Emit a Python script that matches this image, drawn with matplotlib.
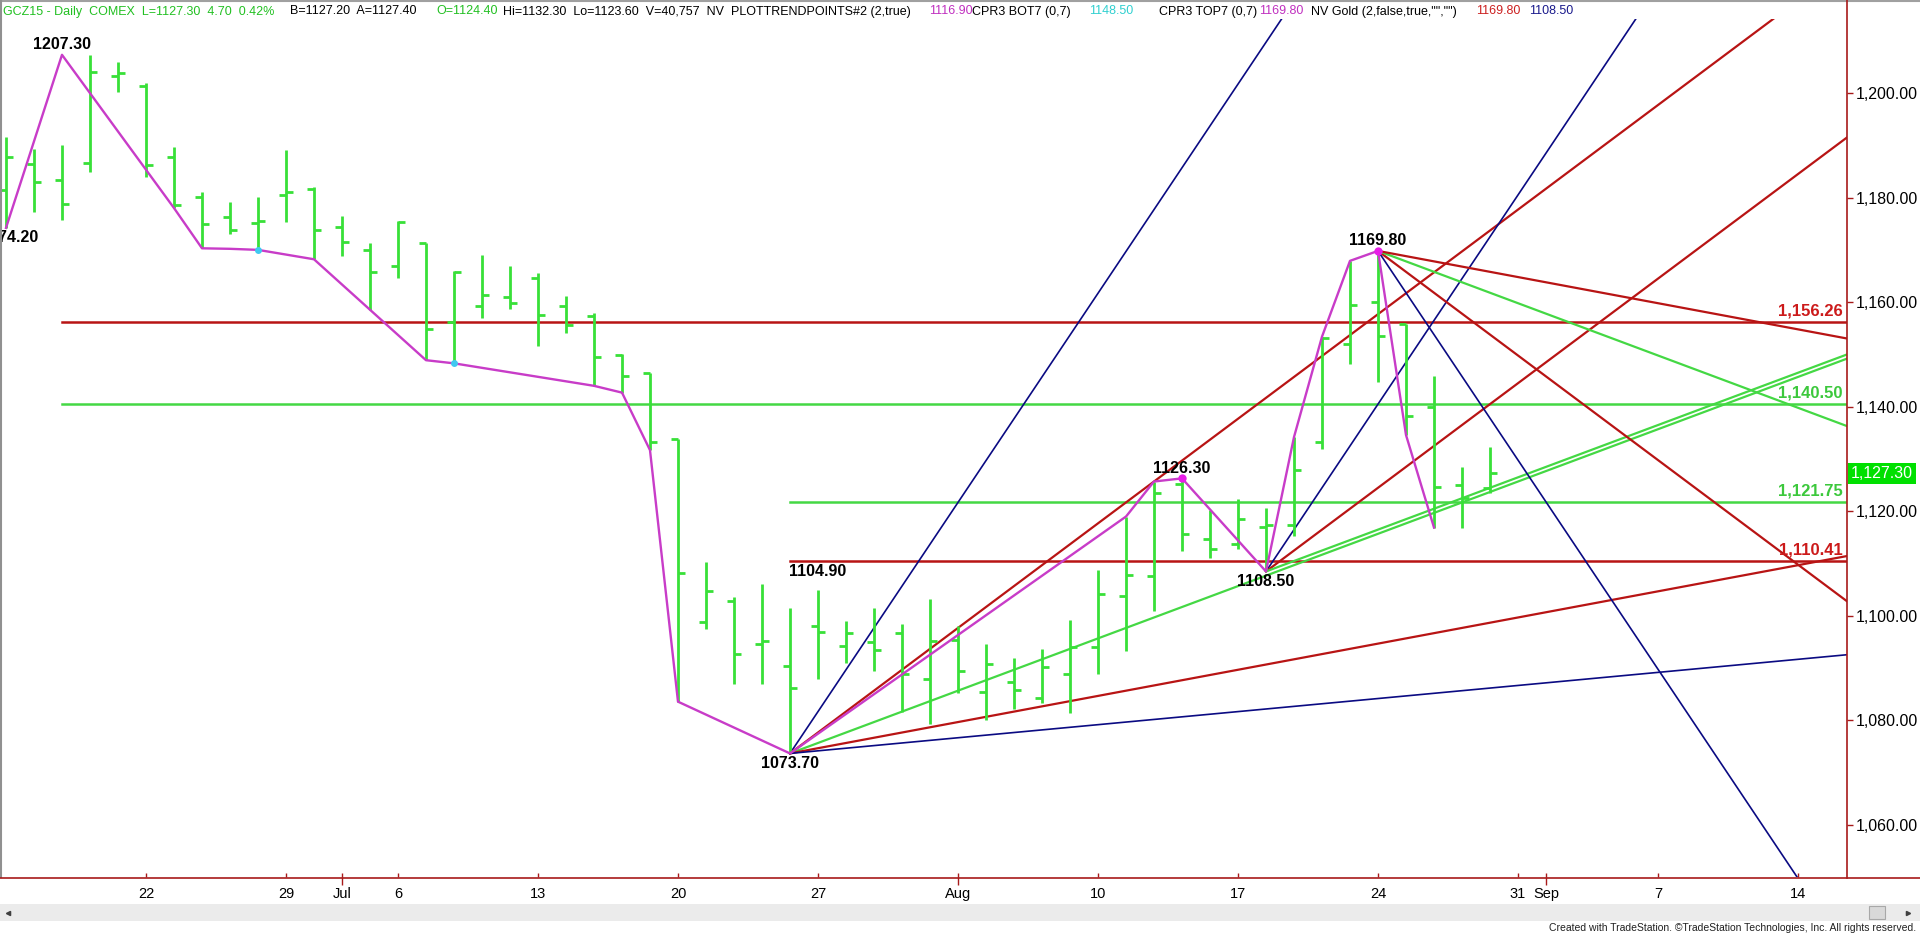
import matplotlib
matplotlib.use("Agg")
import matplotlib.pyplot as plt
from matplotlib.patches import Rectangle
import pandas as pd

plt.rcParams["font.family"] = ["Liberation Sans", "DejaVu Sans"]

# trading calendar: Jul 3 holiday, future days kept to mid-Sep
cal = pd.bdate_range("2015-06-15", "2015-09-18").drop(pd.Timestamp("2015-07-03"))
pos = {d.strftime("%Y-%m-%d"): i for i, d in enumerate(cal)}

# GCZ15 daily bars, Jun 15 .. Aug 28
bar_open = [1181.5, 1186.4, 1183.4, 1186.6, 1203.3, 1201.3, 1187.7, 1180.1, 1176.2, 1175.2,
            1180.5, 1181.6, 1174.4, 1170.0, 1167.0, 1171.4, 1156.3, 1159.3, 1160.9,
            1164.6, 1159.3, 1157.4, 1149.9, 1146.4, 1133.8, 1098.9, 1102.9, 1094.6, 1090.4,
            1098.1, 1094.3, 1095.0, 1096.7, 1087.9, 1095.3, 1085.4, 1087.4, 1084.3, 1088.9,
            1094.1, 1103.8, 1107.7, 1125.2, 1114.7, 1113.7, 1117.0, 1117.4, 1133.3, 1152.0,
            1160.1, 1155.8, 1139.9, 1125.0, 1124.4]
bar_high = [1191.5, 1189.2, 1190.0, 1207.3, 1206.0, 1202.0, 1189.6, 1181.1, 1179.1, 1180.1,
            1189.1, 1182.1, 1176.4, 1171.4, 1175.5, 1171.4, 1166.0, 1169.0, 1166.9,
            1165.5, 1161.2, 1157.9, 1150.0, 1146.4, 1133.8, 1110.4, 1103.6, 1106.1, 1101.6,
            1104.9, 1099.1, 1101.6, 1098.4, 1103.2, 1098.0, 1094.6, 1092.0, 1093.6, 1099.2,
            1108.7, 1119.0, 1125.7, 1126.3, 1120.3, 1122.4, 1120.6, 1134.2, 1153.4, 1167.9,
            1169.8, 1155.8, 1145.9, 1128.5, 1132.3]
bar_low = [1174.2, 1177.3, 1175.8, 1184.8, 1200.2, 1183.9, 1178.0, 1170.3, 1173.0, 1170.0,
           1175.3, 1168.2, 1168.8, 1158.5, 1164.6, 1148.9, 1148.3, 1156.9, 1158.6,
           1151.6, 1154.1, 1144.0, 1142.7, 1131.7, 1083.6, 1097.5, 1087.0, 1087.0, 1073.7,
           1088.0, 1091.0, 1089.5, 1081.6, 1079.3, 1085.2, 1080.1, 1082.2, 1083.3, 1081.4,
           1088.9, 1093.2, 1101.0, 1112.5, 1111.0, 1112.8, 1108.5, 1115.2, 1131.9, 1148.2,
           1144.8, 1134.6, 1116.9, 1116.8, 1123.6]
bar_close = [1187.8, 1182.9, 1178.8, 1204.1, 1203.8, 1186.2, 1178.6, 1175.0, 1173.8, 1175.6,
             1181.0, 1173.8, 1171.6, 1165.7, 1175.4, 1154.8, 1165.7, 1161.4, 1159.9,
             1157.6, 1155.6, 1149.6, 1145.9, 1133.3, 1108.3, 1104.8, 1092.7, 1095.2, 1086.2,
             1096.9, 1096.7, 1093.5, 1088.9, 1095.2, 1089.5, 1090.8, 1085.9, 1090.3, 1094.1,
             1104.1, 1107.8, 1123.6, 1115.6, 1112.8, 1118.5, 1117.3, 1127.9, 1153.1, 1159.4,
             1153.5, 1138.2, 1124.7, 1122.6, 1127.3]

# swing line (plot trend points)
swing_dates = ["2015-06-15", "2015-06-17", "2015-06-23", "2015-06-24", "2015-06-25", "2015-06-26",
               "2015-06-30", "2015-07-07", "2015-07-08", "2015-07-15", "2015-07-16", "2015-07-17",
               "2015-07-20", "2015-07-24", "2015-08-11", "2015-08-12", "2015-08-13", "2015-08-18",
               "2015-08-19", "2015-08-20", "2015-08-21", "2015-08-24", "2015-08-25", "2015-08-26"]
swing_price = [1174.2, 1207.3, 1178.0, 1170.3, 1170.2, 1170.0,
               1168.2, 1148.9, 1148.3, 1144.0, 1142.7, 1131.7,
               1083.6, 1073.7, 1119.0, 1125.7, 1126.3, 1108.5,
               1134.2, 1153.4, 1167.9, 1169.8, 1134.6, 1116.9]
magenta_dot_dates = ["2015-08-13", "2015-08-24"]
magenta_dot_price = [1126.3, 1169.8]
cyan_dot_dates = ["2015-06-26", "2015-07-08"]
cyan_dot_price = [1170.0, 1148.3]

# pivot labels: date, price, text, above?
pivot_dates = ["2015-06-17", "2015-06-15", "2015-07-24", "2015-08-13", "2015-08-18", "2015-08-24"]
pivot_price = [1207.3, 1174.2, 1073.7, 1126.3, 1108.5, 1169.8]
pivot_above = [True, False, False, True, False, True]

# horizontal levels
level_value = [1156.26, 1140.50, 1121.75, 1110.41]
level_start = ["2015-06-17", "2015-06-17", "2015-07-24", "2015-07-24"]
level_kind = ["r", "g", "g", "r"]

# angle fans (price per bar)
fan_dates = ["2015-07-24", "2015-08-18", "2015-08-24"]
fan_price = [1073.7, 1108.5, 1169.8]
fan_slopes = [[8, 4, 2, 1, 0.5], [8, 4, 2], [-8, -4, -2, -1]]
fan_kinds = [["b", "r", "g", "r", "b"], ["b", "r", "g"], ["b", "r", "g", "r"]]

yticks = [1060, 1080, 1100, 1120, 1140, 1160, 1180, 1200]
xtick_dates = ["2015-06-22", "2015-06-29", "2015-07-01", "2015-07-06", "2015-07-13", "2015-07-20",
               "2015-07-27", "2015-08-03", "2015-08-10", "2015-08-17", "2015-08-24", "2015-08-31",
               "2015-09-01", "2015-09-07", "2015-09-14"]
xtick_labels = ["22", "29", "Jul", "6", "13", "20", "27", "Aug", "10", "17", "24", "31", "Sep", "7", "14"]
month_dates = ["2015-07-01", "2015-08-03", "2015-09-01"]
last_price = 1127.30

BAR = "#38e038"
GREEN = "#44d844"
GLABEL = "#3cc83c"
RED = "#b81414"
RLABEL = "#cc1a1a"
BLUE = "#0a0a82"
MAG = "#c83cc8"
AXRED = "#a81a1a"
COL = {"r": RED, "g": GREEN, "b": BLUE}
LW = {"r": 1.6, "g": 1.6, "b": 1.2}

W, H = 1920, 934
fig = plt.figure(figsize=(W / 100, H / 100), dpi=100)
fig.patch.set_facecolor("white")
ax = fig.add_axes([0, (H - 877) / H, 1847 / W, (877 - 19) / H])
ax.set_facecolor("white")
x0 = -0.214
x1 = 65.75
ax.set_xlim(x0, x1)
ax.set_ylim(1050.07, 1214.15)
for s in ax.spines.values():
    s.set_visible(False)

# horizontal levels
for v, st, k in zip(level_value, level_start, level_kind):
    ax.plot([pos[st], x1], [v, v], color=COL[k], lw=1.8, zorder=2)
    ax.annotate(f"{v:,.2f}", xy=(1, v), xycoords=("axes fraction", "data"),
                xytext=(-3, 8), textcoords="offset points", ha="right", va="center",
                fontsize=12, fontweight="bold", color=RLABEL if k == "r" else GLABEL, zorder=6)

# fans
for d, p, slopes, kinds in zip(fan_dates, fan_price, fan_slopes, fan_kinds):
    xa = pos[d]
    for sl, k in zip(slopes, kinds):
        ax.plot([xa, x1], [p, p + sl * (x1 - xa)], color=COL[k], lw=LW[k], zorder=3)

# OHLC bars
xs = list(range(len(bar_open)))
tw = 0.25
ax.vlines(xs, bar_low, bar_high, color=BAR, lw=2.0, zorder=4)
ax.hlines(bar_open, [x - tw for x in xs], xs, color=BAR, lw=2.0, zorder=4)
ax.hlines(bar_close, xs, [x + tw for x in xs], color=BAR, lw=2.0, zorder=4)

# swing line and dots
ax.plot([pos[d] for d in swing_dates], swing_price, color=MAG, lw=1.7, zorder=5)
ax.plot([pos[d] for d in magenta_dot_dates], magenta_dot_price, "o", color="#e81ee8",
        ms=6, mec="none", zorder=6)
ax.plot([pos[d] for d in cyan_dot_dates], cyan_dot_price, "o", color="#40c8f0",
        ms=5, mec="none", zorder=6)

for d, p, up in zip(pivot_dates, pivot_price, pivot_above):
    dx = 2.5 if pos[d] == 0 else 0  # first label sits on the left edge, cut like the source
    ax.annotate(f"{p:.2f}", xy=(pos[d], p), xytext=(dx, 7.4 if up else -7.2),
                textcoords="offset points", ha="center", va="center", fontsize=11.5,
                fontweight="bold", color="black", zorder=7, annotation_clip=False)
ax.annotate("1104.90", xy=(pos["2015-07-24"], 1110.41), xytext=(-1, -7.4),
            textcoords="offset points", ha="left", va="center", fontsize=11.5,
            fontweight="bold", color="black", zorder=7)

# axes ticks
ax.yaxis.tick_right()
ax.set_yticks(yticks)
ax.set_yticklabels([f"{v:,.2f}" for v in yticks])
ax.tick_params(axis="y", direction="out", length=4, color=AXRED, width=1,
               labelsize=11.5, pad=2, labelcolor="black")
ax.set_xticks([pos[d] for d in xtick_dates])
ax.set_xticklabels(xtick_labels)
ax.set_xticks([pos[d] for d in month_dates], minor=True)
ax.xaxis.remove_overlapping_locs = False
ax.tick_params(axis="x", which="major", direction="in", length=3, color=AXRED,
               width=1, labelsize=10.5, pad=7)
ax.tick_params(axis="x", which="minor", direction="out", length=6, color=AXRED, width=1)

ax.text(1.0022, last_price, f"{last_price:,.2f}", transform=ax.get_yaxis_transform(),
        ha="left", va="center", fontsize=11.5, color="white", clip_on=False, zorder=8,
        bbox=dict(boxstyle="square,pad=0.18", fc="#00e000", ec="none"))

# frame, header and footer in pixel space
deco = fig.add_axes([0, 0, 1, 1], zorder=10)
deco.set_xlim(0, W)
deco.set_ylim(H, 0)
deco.axis("off")
deco.patch.set_alpha(0)
deco.plot([0, W], [0.8, 0.8], color="#a0a0a0", lw=1.5)
deco.plot([0.8, 0.8], [0, 877], color="#909090", lw=1.5)
deco.plot([1847, 1847], [0, 878], color=AXRED, lw=1.2)
deco.plot([0, W], [878, 878], color=AXRED, lw=1.2)
deco.add_patch(Rectangle((0, 904), W, 17, fc="#ebebeb", ec="none"))
deco.add_patch(Rectangle((1869, 906), 16, 13, fc="#d9d9d9", ec="#a8a8a8", lw=0.8))
deco.plot([1908], [912.5], marker=">", ms=3, color="#404040")
deco.plot([8], [912.5], marker="<", ms=3, color="#404040")
deco.text(1916, 928, "Created with TradeStation. \u00a9TradeStation Technologies, Inc. All rights reserved.",
          ha="right", va="center", fontsize=7.5, color="#202020")

header = [
    ("GCZ15 - Daily  COMEX  L=1127.30  4.70  0.42%", "#22c022", 3),
    ("B=1127.20  A=1127.40", "black", 290),
    ("O=1124.40", "#22c022", 436),
    ("Hi=1132.30  Lo=1123.60  V=40,757  NV  PLOTTRENDPOINTS#2 (2,true)", "black", 503),
    ("1116.90", "#c030c0", 929),
    ("CPR3 BOT7 (0,7)", "black", 972),
    ("1148.50", "#30d0d0", 1089),
    ("CPR3 TOP7 (0,7)", "black", 1159),
    ("1169.80", "#c030c0", 1259),
    ('NV Gold (2,false,true,"","")', "black", 1311),
    ("1169.80", "#cc2020", 1476),
    ("1108.50", "#1a1a8c", 1529),
]
for txt, c, x in header:
    deco.text(x, 11.5, txt, ha="left", va="center", fontsize=9, color=c)

fig.savefig("out.png", dpi=100)
